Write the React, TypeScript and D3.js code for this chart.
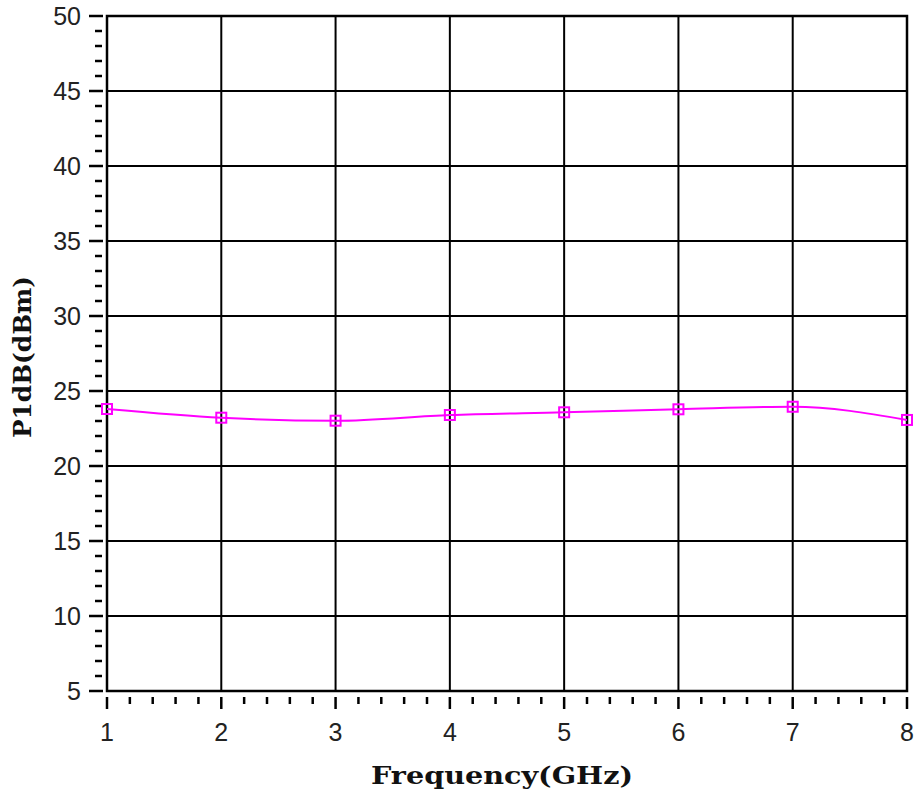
import React, { useEffect, useRef } from "react";
import * as d3 from "d3";

const frequencies = [1, 2, 3, 4, 5, 6, 7, 8];
const p1dbValues = [23.8, 23.22, 23.02, 23.4, 23.58, 23.78, 23.95, 23.07];
const xTicks = [1, 2, 3, 4, 5, 6, 7, 8];
const yTicks = [5, 10, 15, 20, 25, 30, 35, 40, 45, 50];

const App: React.FC = () => {
  const svgRef = useRef<SVGSVGElement | null>(null);

  useEffect(() => {
    if (!svgRef.current) return;
    const svg = d3.select(svgRef.current);
    svg.selectAll("*").remove();

    const width = 915;
    const height = 793;
    const margin = { top: 16, right: 8, bottom: 102, left: 107 };
    const innerWidth = width - margin.left - margin.right;
    const innerHeight = height - margin.top - margin.bottom;

    svg.attr("width", width).attr("height", height);
    svg.append("rect").attr("width", width).attr("height", height).attr("fill", "#fff");

    const g = svg.append("g").attr("transform", `translate(${margin.left},${margin.top})`);

    const x = d3.scaleLinear().domain([1, 8]).range([0, innerWidth]);
    const y = d3.scaleLinear().domain([5, 50]).range([innerHeight, 0]);

    // grid
    g.append("g")
      .selectAll("line")
      .data(xTicks)
      .join("line")
      .attr("x1", (d) => x(d))
      .attr("x2", (d) => x(d))
      .attr("y1", 0)
      .attr("y2", innerHeight)
      .attr("stroke", "#000")
      .attr("stroke-width", 2);
    g.append("g")
      .selectAll("line")
      .data(yTicks)
      .join("line")
      .attr("x1", 0)
      .attr("x2", innerWidth)
      .attr("y1", (d) => y(d))
      .attr("y2", (d) => y(d))
      .attr("stroke", "#000")
      .attr("stroke-width", 2);
    g.append("rect")
      .attr("width", innerWidth)
      .attr("height", innerHeight)
      .attr("fill", "none")
      .attr("stroke", "#000")
      .attr("stroke-width", 2.5);

    // y ticks
    const yMinor = d3.range(5, 50.01, 1).filter((v) => v % 5 !== 0);
    g.append("g")
      .selectAll("line")
      .data(yMinor)
      .join("line")
      .attr("x1", -12)
      .attr("x2", -5)
      .attr("y1", (d) => y(d))
      .attr("y2", (d) => y(d))
      .attr("stroke", "#000")
      .attr("stroke-width", 2.5);
    g.append("g")
      .selectAll("line")
      .data(yTicks)
      .join("line")
      .attr("x1", -18)
      .attr("x2", -4)
      .attr("y1", (d) => y(d))
      .attr("y2", (d) => y(d))
      .attr("stroke", "#000")
      .attr("stroke-width", 2.5);
    g.append("g")
      .selectAll("text")
      .data(yTicks)
      .join("text")
      .attr("x", -26)
      .attr("y", (d) => y(d))
      .attr("dy", "0.36em")
      .attr("text-anchor", "end")
      .attr("font-family", "Liberation Sans, Arial, sans-serif")
      .attr("font-size", 25)
      .attr("fill", "#222")
      .text((d) => d);

    // x ticks
    const xMinor = d3.range(1, 8.001, 0.2).filter((v) => Math.abs(v - Math.round(v)) > 0.01);
    g.append("g")
      .selectAll("line")
      .data(xMinor)
      .join("line")
      .attr("x1", (d) => x(d))
      .attr("x2", (d) => x(d))
      .attr("y1", innerHeight + 6)
      .attr("y2", innerHeight + 13)
      .attr("stroke", "#000")
      .attr("stroke-width", 2.5);
    g.append("g")
      .selectAll("line")
      .data(xTicks)
      .join("line")
      .attr("x1", (d) => x(d))
      .attr("x2", (d) => x(d))
      .attr("y1", innerHeight + 6)
      .attr("y2", innerHeight + 18)
      .attr("stroke", "#000")
      .attr("stroke-width", 2.5);
    g.append("g")
      .selectAll("text")
      .data(xTicks)
      .join("text")
      .attr("x", (d) => x(d))
      .attr("y", innerHeight + 50)
      .attr("text-anchor", "middle")
      .attr("font-family", "Liberation Sans, Arial, sans-serif")
      .attr("font-size", 25)
      .attr("fill", "#222")
      .text((d) => d);

    // series
    const pts = frequencies.map((f, i) => [f, p1dbValues[i]] as [number, number]);
    const line = d3
      .line<[number, number]>()
      .x((d) => x(d[0]))
      .y((d) => y(d[1]))
      .curve(d3.curveMonotoneX);
    g.append("path")
      .datum(pts)
      .attr("d", line)
      .attr("fill", "none")
      .attr("stroke", "#ff00ff")
      .attr("stroke-width", 2);
    g.append("g")
      .selectAll("rect")
      .data(pts)
      .join("rect")
      .attr("x", (d) => x(d[0]) - 5)
      .attr("y", (d) => y(d[1]) - 5)
      .attr("width", 10)
      .attr("height", 10)
      .attr("fill", "none")
      .attr("stroke", "#ff00ff")
      .attr("stroke-width", 2);

    // axis titles
    svg.append("text")
      .attr("x", 502)
      .attr("y", 784)
      .attr("text-anchor", "middle")
      .attr("font-family", "DejaVu Serif, Liberation Serif, serif")
      .attr("font-weight", "bold")
      .attr("font-size", 24)
      .attr("textLength", 262)
      .attr("lengthAdjust", "spacingAndGlyphs")
      .attr("fill", "#111")
      .text("Frequency(GHz)");
    svg.append("text")
      .attr("transform", `translate(31,357) rotate(-90)`)
      .attr("text-anchor", "middle")
      .attr("font-family", "DejaVu Serif, Liberation Serif, serif")
      .attr("font-weight", "bold")
      .attr("font-size", 24)
      .attr("textLength", 162)
      .attr("lengthAdjust", "spacingAndGlyphs")
      .attr("fill", "#111")
      .text("P1dB(dBm)");
  }, []);

  return (
    <div style={{ position: "absolute", left: 0, top: 0 }}>
      <svg ref={svgRef} style={{ display: "block" }}></svg>
    </div>
  );
};

export default App;
